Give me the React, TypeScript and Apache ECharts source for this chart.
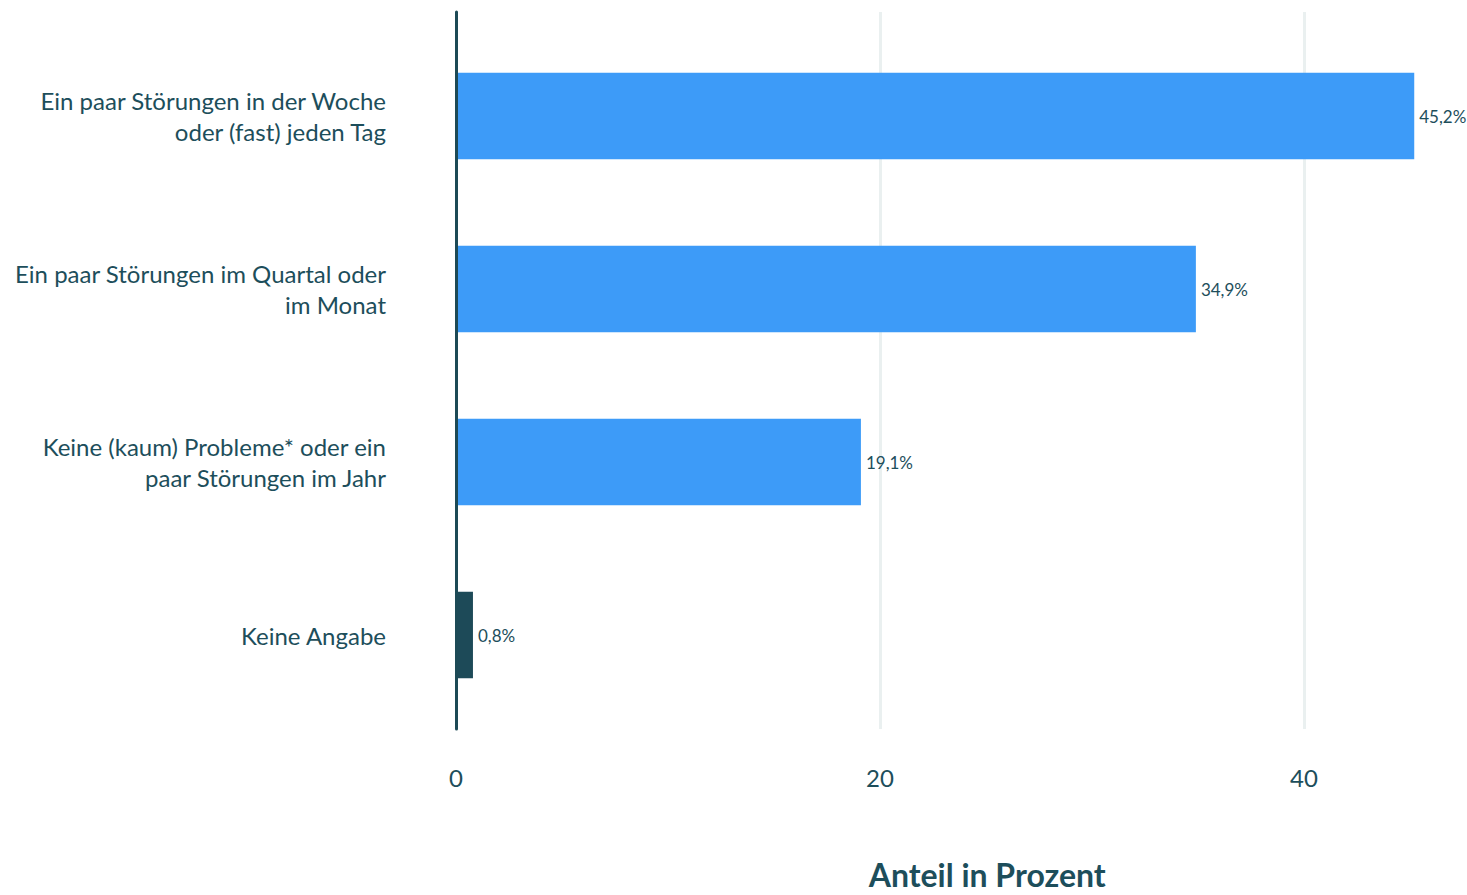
import React, { useEffect, useRef } from "react";
import * as echarts from "echarts";

const categories = [
  "Ein paar Störungen in der Woche\noder (fast) jeden Tag",
  "Ein paar Störungen im Quartal oder\nim Monat",
  "Keine (kaum) Probleme* oder ein\npaar Störungen im Jahr",
  "Keine Angabe",
];
const values = [45.2, 34.9, 19.1, 0.8];
const valueLabels = ["45,2%", "34,9%", "19,1%", "0,8%"];
const barColors = ["#3d9bf8", "#3d9bf8", "#3d9bf8", "#1d4a58"];
const axisTitle = "Anteil in Prozent";

const TEXT = "#1d4e5b";
const FONT = "Lato";

export default function App() {
  const ref = useRef<HTMLDivElement>(null);
  useEffect(() => {
    if (!ref.current) return;
    const chart = echarts.init(ref.current, null, { renderer: "svg" });
    const gridLeft = 456;
    const gridRight = 14.6;
    chart.setOption({
      animation: false,
      backgroundColor: "#ffffff",
      textStyle: { fontFamily: FONT },
      grid: [
        { left: gridLeft, right: gridRight, top: 12, bottom: 157, containLabel: false },
        { left: gridLeft, right: gridRight, top: 29.5, bottom: 173.5, containLabel: false },
      ],
      xAxis: [
        {
          gridIndex: 0,
          type: "value",
          min: 0,
          max: 47,
          interval: 20,
          axisLine: { show: false },
          axisTick: { show: false },
          axisLabel: {
            showMaxLabel: false,
            color: TEXT,
            fontFamily: FONT,
            fontSize: 24,
            margin: 36,
            formatter: (v: number) => (v % 20 === 0 ? String(v) : ""),
          },
          splitLine: {
            show: true,
            showMaxLine: false,
            lineStyle: { color: "#eaf0f0", width: 3 },
          },
          name: axisTitle,
          nameLocation: "middle",
          nameGap: 129,
          nameTextStyle: {
            color: TEXT,
            fontFamily: FONT,
            fontWeight: "bold",
            fontSize: 32,
            padding: [0, 0, 0, 66],
          },
        },
        {
          gridIndex: 1,
          type: "value",
          min: 0,
          max: 47,
          interval: 20,
          show: false,
        },
      ],
      yAxis: [
        {
          gridIndex: 0,
          type: "category",
          data: categories,
          inverse: true,
          z: 5,
          axisLine: { show: true, lineStyle: { color: "#1d4a56", width: 3 } },
          axisTick: { show: false },
          axisLabel: { show: false },
          splitLine: { show: false },
        },
        {
          gridIndex: 1,
          type: "category",
          data: categories,
          inverse: true,
          axisLine: { show: false },
          axisTick: { show: false },
          axisLabel: {
            color: TEXT,
            fontFamily: FONT,
            fontSize: 24,
            lineHeight: 31,
            margin: 70,
            align: "right",
          },
        },
      ],
      series: [
        {
          type: "bar",
          xAxisIndex: 1,
          yAxisIndex: 1,
          barWidth: "50%",
          data: values.map((v, i) => ({ value: v, itemStyle: { color: barColors[i] } })),
          label: {
            show: true,
            position: "right",
            distance: 5,
            color: TEXT,
            fontFamily: FONT,
            fontSize: 17,
            formatter: (p: any) => valueLabels[p.dataIndex],
          },
        },
      ],
    });
    return () => chart.dispose();
  }, []);
  return (
    <div
      ref={ref}
      style={{ position: "absolute", left: 0, top: 0, width: 1467, height: 895 }}
    />
  );
}
